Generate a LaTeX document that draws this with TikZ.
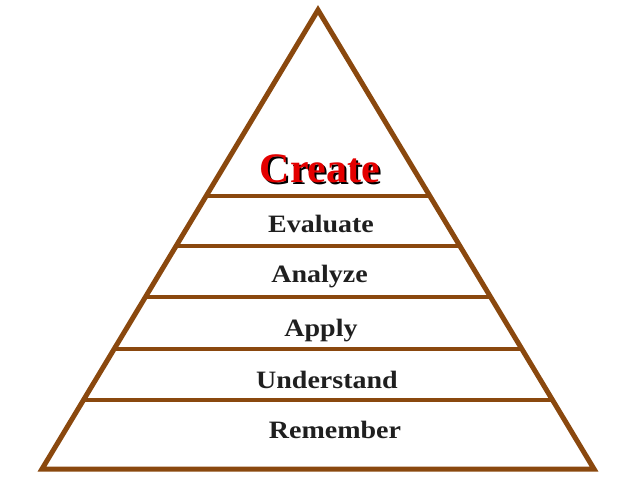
\documentclass[tikz,border=0pt]{standalone}
\usepackage{fontspec}
\setmainfont{Liberation Serif}
\newfontfamily\levelfont[FakeStretch=1.12]{Liberation Serif}
\usetikzlibrary{calc}
\definecolor{pyrbrown}{RGB}{138,72,14}
\definecolor{createred}{RGB}{228,0,0}

\begin{document}
\begin{tikzpicture}[x=1pt, y=-1pt,
	side/.style={draw=pyrbrown, line width=5pt, line join=miter},
	tier/.style={draw=pyrbrown, line width=4.5pt},
	level/.style={anchor=base, font=\levelfont\fontsize{25}{30}\selectfont\bfseries, text=black!88},
	toplevel/.style={anchor=base, font=\fontsize{42}{46}\selectfont\bfseries}]
	\def\ytop{10}
	\def\ybase{469}

	\useasboundingbox (0,0) rectangle (638,479);

	\coordinate (apex) at (318,\ytop);
	\coordinate (bl) at (42,\ybase);
	\coordinate (br) at (594,\ybase);
	\draw[side] (apex) -- (bl) -- (br) -- cycle;

	\begin{scope}
		\foreach \y in {196,246,297,349,400}
		{
			\pgfmathsetmacro{\t}{(\y-\ytop)/(\ybase-\ytop)}
			\draw[tier] ($(apex)!\t!(bl)$) -- ($(apex)!\t!(br)$);
		}
	\end{scope}

	\node[toplevel, text=black] (createshadow) at (322,184) {Create};
	\node[toplevel, text=createred] (create) at (320,182) {Create};
	\node[level] (evaluate) at (321,232) {Evaluate};
	\node[level] (analyze) at (319.5,282) {Analyze};
	\node[level] (apply) at (321,336) {Apply};
	\node[level] (understand) at (327,388) {Understand};
	\node[level] (remember) at (335,438) {Remember};
\end{tikzpicture}
\end{document}
